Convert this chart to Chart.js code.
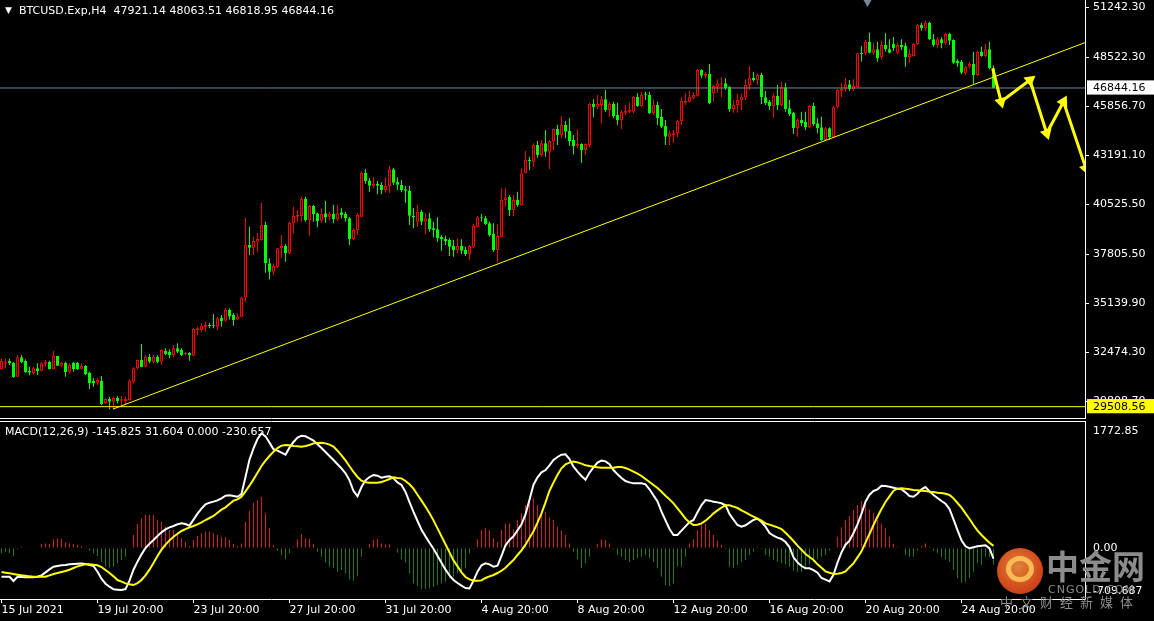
<!DOCTYPE html>
<html><head><meta charset="utf-8">
<script src="https://cdn.jsdelivr.net/npm/chart.js@4.4.1/dist/chart.umd.min.js"></script>
<style>
html,body{margin:0;padding:0;background:#000;}
body{width:1154px;height:621px;position:relative;overflow:hidden;font-family:"DejaVu Sans",sans-serif;}
canvas{position:absolute;left:0;}
.txt{position:absolute;color:#fff;font-size:11px;white-space:pre;line-height:13px;}
.wm{position:absolute;color:#8c8c8c;white-space:pre;font-family:"Noto Sans CJK SC",sans-serif;}
</style></head><body>
<canvas id="priceChart" width="1154" height="420" style="top:0"></canvas>
<canvas id="macdChart" width="1154" height="202" style="top:419px"></canvas>
<div class="txt" style="left:5px;top:4px;font-size:9px">▼</div>
<div class="txt" id="title" style="left:19px;top:4px"></div>
<div class="txt" id="macdTitle" style="left:5px;top:425px"></div>
<div style="position:absolute;left:997px;top:548px;width:46px;height:46px;border-radius:50%;background:radial-gradient(circle at 45% 40%,#f7923e 0%,#e9521f 60%,#c93a17 100%);opacity:.9"></div>
<div style="position:absolute;left:1006px;top:556px;width:18px;height:16px;border-radius:50%;border:5px solid #ffc25a;opacity:.9"></div>
<div class="wm" style="left:1046px;top:543px;font-size:33px;font-weight:bold;line-height:44px">中金网</div>
<div class="wm" style="left:1048px;top:583px;font-size:11px;line-height:13px;font-family:'DejaVu Sans';letter-spacing:1px">CNGOLD.COM</div>
<div class="wm" style="left:1000px;top:594px;font-size:13px;line-height:16px;letter-spacing:7px">中文财经新媒体</div>
<script>
// ---------- data ----------
const opens = [31557,31846,31993,31900,31139,32194,31993,31465,31324,31596,31465,31846,31938,31557,32265,31737,31900,31411,31900,31900,31574,31721,31356,30921,30812,30905,29691,29925,29779,29996,29833,29817,29871,30866,31596,32047,31683,32227,31955,32227,31955,32553,32499,32319,32683,32591,32374,32444,32281,33679,33679,33859,33951,33951,33859,34348,34185,34767,34495,34256,34402,35436,38303,38156,38482,38575,39391,37307,36851,37123,38124,38249,37851,39484,39843,39881,40806,39663,40425,40028,39625,40028,39843,39990,39701,40082,39990,39756,38629,39119,39843,42236,41812,41529,41638,41567,41295,41513,42421,41730,41583,41333,41257,39897,39571,40115,39571,39756,39211,39157,38755,38629,38575,38249,38031,38249,38031,37813,38211,39299,39810,39756,39484,38901,38031,38755,40751,40931,40207,40751,40479,42203,42927,42835,43743,43199,43835,43378,43961,44613,44287,44831,44505,44015,43705,43797,43471,43743,45973,45827,45919,46229,45647,45973,45375,45103,45500,45555,45555,46370,45865,46501,46463,45467,45919,45282,44777,44195,44287,44380,45049,46044,46099,46316,46425,47823,47513,47605,46555,46915,47045,47100,46915,45685,45919,46191,46338,47007,47404,47279,47551,46338,46099,45865,46409,45919,46882,45740,45500,44651,45103,45011,44706,45865,44924,44706,44015,44651,44162,45794,46697,46773,47045,46762,46898,48748,48732,49363,48764,48949,48514,49183,48949,49237,48764,49183,49129,48514,48585,49237,50271,50091,50396,49493,49183,49493,49275,49781,49455,48329,48274,47644,48003,48149,47551,48818,48585,48949,47921.14];
const highs = [32102,32140,32118,31938,32319,32319,32085,31683,31683,31868,31938,32047,32009,32537,32281,31955,31955,31868,31955,31938,31868,31775,31411,31051,31051,31177,29963,30051,30051,30089,30089,30051,30997,31650,32085,32917,32319,32374,32319,32319,32629,32683,32629,32863,32955,32683,32499,32466,33788,33859,34044,34131,34076,34549,34402,34495,34859,34859,34587,34587,35491,39788,39299,38755,38940,40604,39571,37579,37307,38140,38847,38357,39571,40387,40207,40931,40931,40479,40479,40060,40300,40697,40115,40479,40479,40300,40115,39810,39211,40038,42312,42438,41931,41986,41785,41714,41986,42601,42508,41986,41839,41513,41513,40316,40479,40207,40028,40060,39571,39810,38847,38809,38667,38575,38667,38613,38211,38303,39445,39881,39990,39881,39571,39484,39429,41387,41387,41023,41023,41202,42475,43417,43107,43835,43961,44015,44559,44015,44651,44831,45321,45049,45196,44287,44597,43835,43835,46044,46229,46463,46409,46735,46099,46099,46044,45647,45919,46044,46409,46555,46643,46643,46643,46229,46099,45701,45103,44521,44559,45103,46338,46555,46681,46610,47861,47861,47698,48149,47007,47317,47426,47372,46940,46191,46517,46555,47317,48041,47731,47644,47676,46681,46191,46555,47007,47187,47132,46191,45555,45196,45555,45555,45919,46044,45196,45282,44706,44706,45865,46773,47100,47388,47279,47317,48764,49129,49455,49852,49308,49363,49417,49820,49493,49602,49308,49493,49308,48949,49275,50325,50396,50505,50450,49781,49602,49602,49852,49852,49493,48405,48367,48041,48274,48818,48873,49091,49237,49363,48063.51];
const lows = [31530,31596,31775,31084,31123,31868,31356,31215,31248,31231,31432,31683,31541,31541,31721,31683,31139,31324,31411,31503,31541,31231,30486,30595,30687,29599,29653,29365,29365,29691,29599,29653,29833,30780,31541,31650,31650,31868,31868,31868,31775,32303,32140,32194,32411,32265,32303,32009,32265,33407,33587,33587,33771,33771,33679,33859,34131,34256,33913,34223,34370,35219,37759,37759,37938,38537,36796,36437,36671,37035,37579,37394,37813,38940,39571,39571,39571,38809,39571,39266,39516,39516,39663,39484,39625,39756,39571,38303,38575,38847,39810,41638,41202,41387,41061,41061,41148,41148,41567,41295,41170,40604,39391,39211,39299,39391,38901,39027,38722,38482,37993,38303,37705,37667,37851,37813,37705,37487,38124,39266,39571,39391,38755,37938,37340,38738,40387,39881,39881,40387,40452,42203,42383,42563,43052,43107,43107,42438,43471,43743,44108,44108,43705,43237,43564,42780,43199,43618,45250,45685,44924,45555,45282,45196,44831,44613,45375,45467,45467,45827,45827,46191,45429,45375,44831,44651,43743,43743,43868,44195,44831,45919,46044,46229,46370,47372,47372,45973,46099,46588,46338,46735,45555,45500,45500,45647,46191,46735,47187,47007,45973,45919,45647,45228,45647,45865,45555,45321,44341,44195,44777,44559,44651,44777,44380,43977,43977,44015,44108,45740,46354,46643,46697,46681,46882,48274,48639,48732,48639,48274,48405,48818,48732,48873,48693,48911,48003,48220,48547,49183,49961,49961,49455,49091,49003,49003,49183,49183,48149,48003,47605,47551,47915,47061,47497,48547,48514,47861,46818.95];
const closes = [31993,31922,31868,31123,32194,31938,31394,31356,31596,31449,31868,31938,31557,32265,31737,31900,31394,31775,31557,31541,31721,31270,30780,30780,30959,29653,29925,29779,29980,29817,29909,29925,30921,31596,32047,31650,32227,31955,32227,31938,32591,32374,32319,32683,32499,32319,32444,32303,33733,33771,33913,33951,33897,33913,34315,34169,34767,34407,34223,34407,35436,38303,38156,38520,38629,39391,37307,36851,37161,38124,38249,37851,39516,39881,39935,40806,39663,40425,39990,39609,39990,39810,39990,39701,40028,39935,39756,38629,39119,39935,42236,41785,41529,41638,41529,41295,41513,42421,41692,41583,41295,41257,39897,39810,40115,39571,39756,39157,39119,38667,38629,38520,38211,38031,38249,37993,37813,38249,39353,39810,39756,39445,38847,38031,38792,40751,40898,40207,40751,40479,42203,42927,42873,43743,43199,43835,43378,43961,44613,44287,44831,44467,43961,43689,43797,43471,43797,45973,45794,45973,46229,45647,45973,45321,45103,45555,45609,45647,46370,45865,46463,46447,45467,45919,45196,44739,44195,44380,44380,45049,46137,46153,46370,46463,47823,47513,47605,46011,46953,47100,47100,46828,45685,45919,46191,46370,47007,47404,47279,47551,46338,46011,45865,46409,45919,46882,45685,45429,44651,45103,44924,44706,45865,44885,44651,44015,44651,44162,45794,46735,46790,47045,46773,46953,48732,48677,49363,48764,48949,48459,49183,48949,48764,49003,49183,49058,48514,48693,49237,50271,50091,50396,49493,49183,49493,49275,49781,49417,48220,48187,47676,48003,48149,47551,48818,48585,48949,47915,46844.16];

const macdLine = [-399,-399,-399,-459,-399,-403,-408,-408,-408,-399,-380,-338,-296,-259,-250,-240,-236,-226,-222,-217,-213,-222,-236,-250,-329,-426,-496,-538,-575,-580,-585,-571,-454,-301,-189,-87,1,62,113,169,220,262,290,308,332,345,336,313,397,480,550,611,634,648,666,694,731,736,727,717,755,992,1234,1392,1522,1601,1559,1471,1378,1359,1331,1303,1401,1480,1541,1568,1559,1531,1499,1448,1396,1341,1285,1229,1169,1113,1043,945,797,722,852,945,992,1020,1010,983,996,1001,973,917,880,783,643,504,378,257,164,76,-8,-106,-203,-301,-380,-445,-487,-524,-557,-561,-454,-329,-240,-213,-226,-259,-245,-110,39,113,164,248,332,471,676,885,987,1057,1089,1155,1229,1271,1303,1308,1243,1136,1066,1006,955,1052,1127,1192,1220,1210,1169,1089,1029,978,936,917,903,903,903,890,820,736,652,508,387,266,183,183,243,304,364,392,499,601,671,662,648,638,625,597,476,397,322,299,318,355,392,411,364,299,211,173,146,127,85,15,-129,-199,-250,-282,-282,-306,-343,-417,-440,-464,-371,-203,-59,48,104,211,332,480,648,745,797,820,871,866,857,843,829,820,778,727,717,759,820,852,792,741,699,657,620,545,401,252,108,25,-3,11,25,34,39,-3,-145.825];
const signalLine = [-333,-343,-352,-361,-371,-380,-385,-394,-399,-399,-399,-399,-380,-361,-347,-333,-319,-301,-278,-254,-240,-226,-226,-231,-240,-264,-306,-347,-394,-445,-468,-492,-505,-515,-487,-445,-380,-301,-208,-110,-22,48,108,159,201,239,266,290,308,332,359,392,420,448,494,536,569,615,662,680,717,792,871,959,1052,1145,1220,1285,1345,1396,1429,1438,1434,1424,1420,1415,1424,1438,1461,1466,1471,1461,1443,1415,1359,1294,1224,1141,1062,992,941,917,913,913,913,922,941,964,987,978,973,936,890,829,745,662,578,485,387,276,164,53,-59,-171,-254,-338,-403,-436,-454,-454,-450,-417,-394,-375,-347,-315,-273,-217,-166,-96,-31,48,141,234,355,485,638,801,913,1024,1113,1169,1192,1206,1196,1178,1155,1145,1136,1127,1122,1122,1122,1122,1131,1131,1117,1094,1066,1038,1006,964,922,880,838,787,731,680,625,555,485,411,359,322,327,345,383,429,485,527,564,597,597,578,559,527,499,466,438,411,383,345,327,308,290,266,215,159,99,34,-22,-82,-124,-166,-226,-273,-324,-343,-361,-357,-347,-324,-268,-213,-129,-45,76,197,322,438,545,643,722,801,829,834,829,820,810,806,801,797,787,783,773,769,759,741,694,629,564,485,406,322,243,183,127,76,31.604];
const histogram = [-73,-50,-73,-110,-17,20,5,-8,0,0,57,66,57,122,136,127,80,66,57,43,29,-8,-36,-73,-110,-189,-259,-273,-259,-212,-166,-120,-5,183,336,415,462,462,462,392,369,299,252,252,206,136,90,29,113,169,206,229,229,206,183,150,150,113,57,29,66,369,522,634,671,718,485,276,43,-36,-96,-157,-73,20,122,197,136,127,57,-50,-120,-203,-259,-282,-329,-305,-352,-436,-454,-389,-120,-3,57,113,127,66,52,52,0,-64,-157,-203,-352,-492,-529,-575,-575,-561,-538,-515,-492,-468,-422,-399,-352,-329,-282,-73,-17,122,252,276,252,136,90,252,345,345,262,392,485,601,671,694,601,531,508,429,392,299,243,183,66,-50,-157,-282,-212,-120,6,57,122,113,66,-17,-96,-120,-166,-189,-166,-143,-120,-96,-143,-189,-282,-399,-515,-529,-492,-259,-259,-120,66,122,252,345,345,252,183,104,43,-17,-259,-282,-236,-189,-166,-96,-50,20,-17,-96,-120,-166,-189,-210,-225,-259,-317,-329,-329,-282,-222,-189,-157,-120,-96,-36,-3,159,290,392,448,531,601,657,625,541,485,392,345,276,159,57,20,0,-96,-120,-120,-36,29,66,20,-36,-73,-129,-157,-189,-305,-422,-482,-468,-422,-329,-212,-236,-120,-120,-230.657];

const tickBars = [0,24,48,72,96,120,144,168,192,216,240];
const tickLabels = ['15 Jul 2021','19 Jul 20:00','23 Jul 20:00','27 Jul 20:00','31 Jul 20:00','4 Aug 20:00','8 Aug 20:00','12 Aug 20:00','16 Aug 20:00','20 Aug 20:00','24 Aug 20:00'];
const priceTicks = [51242.30,48522.30,45856.70,43191.10,40525.50,37805.50,35139.90,32474.30,29808.70];
const lastPrice = 46844.16;
const levelPrice = 29508.56;
const trendBars = [27.9, 270.9];
const trendPrices = [29381, 49314];
const arrowBars = [247.8, 249.9, 257.1, 261.3, 265.5, 271.1];
const arrowPrices = [47915, 46098, 47279, 44380, 46099, 42475];
const arrowAngles = [0, 165, 52, 163, 28, 161];
const shiftBar = 216.5;
const macdMax = 1772.85, macdMin = -709.687;
const macdAxisText = ['1772.85', '0.00', '-709.687'];

// ---------- layout constants ----------
const xMin = -0.375, xMax = 270.875;   // 4 px per bar over a 1085 px plot
const priceMax = 51631, priceMin = 28892;
const AXIS_W = 69;

document.getElementById('title').textContent =
  'BTCUSD.Exp,H4  ' + opens[opens.length-1].toFixed(2) + ' ' + highs[highs.length-1].toFixed(2) + ' ' +
  lows[lows.length-1].toFixed(2) + ' ' + closes[closes.length-1].toFixed(2);
document.getElementById('macdTitle').textContent =
  'MACD(12,26,9) ' + macdLine[macdLine.length-1].toFixed(3) + ' ' + signalLine[signalLine.length-1].toFixed(3) +
  ' 0.000 ' + histogram[histogram.length-1].toFixed(3);

Chart.defaults.font.family = '"DejaVu Sans", sans-serif';
Chart.defaults.font.size = 11;
Chart.defaults.color = '#ffffff';

const up = closes.map((c, i) => c >= opens[i]);
const RED = '#ff0000', GREEN = '#00ff00';
const bodies = opens.map((o, i) => ({x: i, y: [o, closes[i]]}));
const wicks = lows.map((l, i) => ({x: i, y: [l, highs[i]]}));

const noPad = s => { s.paddingTop = 0; s.paddingBottom = 0; s.paddingLeft = 0; s.paddingRight = 0; };
const hiddenX = (pos) => ({
  type: 'linear', position: pos, min: xMin, max: xMax, offset: false,
  ticks: {display: false}, grid: {display: false, offset: false},
  border: {display: true, color: '#ffffff', width: 1},
  afterFit: s => { s.height = 2; noPad(s); }
});

new Chart(document.getElementById('priceChart'), {
  type: 'bar',
  data: {datasets: [
    {type: 'line', data: [{x: shiftBar, y: priceMax}], showLine: false, pointStyle: 'triangle', pointRadius: 7,
     pointRotation: 180, pointBackgroundColor: '#778899', pointBorderWidth: 0, pointHoverRadius: 7, order: 0},
    {type: 'line', data: arrowBars.map((b, i) => ({x: b, y: arrowPrices[i]})), borderColor: '#ffff00', borderWidth: 3,
     pointStyle: 'triangle', pointRadius: arrowBars.map((b, i) => i ? 7 : 0), pointRotation: arrowAngles,
     pointBackgroundColor: '#ffff00', pointBorderWidth: 0, tension: 0, order: 1},
    {type: 'line', data: trendBars.map((b, i) => ({x: b, y: trendPrices[i]})), borderColor: '#ffff00', borderWidth: 1,
     pointRadius: 0, order: 2},
    {type: 'line', data: [{x: xMin, y: lastPrice}, {x: xMax, y: lastPrice}], borderColor: '#778899', borderWidth: 1,
     pointRadius: 0, order: 3},
    {type: 'line', data: [{x: xMin, y: levelPrice}, {x: xMax, y: levelPrice}], borderColor: '#ffff00', borderWidth: 1,
     pointRadius: 0, order: 3},
    {data: bodies, backgroundColor: up.map(u => u ? '#000000' : GREEN), borderColor: up.map(u => u ? RED : GREEN),
     borderWidth: 1, borderSkipped: false, barThickness: 3, minBarLength: 1, grouped: false, inflateAmount: 0, order: 4},
    {data: wicks, backgroundColor: up.map(u => u ? RED : GREEN), borderWidth: 0, barThickness: 1,
     grouped: false, inflateAmount: 0, order: 5}
  ]},
  options: {
    responsive: false, animation: false, events: [],
    layout: {padding: 0, autoPadding: false},
    plugins: {legend: {display: false}, tooltip: {enabled: false}},
    scales: {
      x: hiddenX('bottom'),
      y: {
        type: 'linear', position: 'right', min: priceMin, max: priceMax,
        afterFit: s => { s.width = AXIS_W; noPad(s); },
        afterBuildTicks: s => { s.ticks = priceTicks.concat([lastPrice, levelPrice]).map(v => ({value: v})); },
        ticks: {
          autoSkip: false, padding: 4,
          callback: v => Number(v).toFixed(2),
          color: c => (c.tick && (c.tick.value === lastPrice || c.tick.value === levelPrice)) ? '#000000' : '#ffffff',
          showLabelBackdrop: c => !!(c.tick && (c.tick.value === lastPrice || c.tick.value === levelPrice)),
          backdropColor: c => (c.tick && c.tick.value === levelPrice) ? '#ffff00' : '#ffffff',
          backdropPadding: {top: 1, bottom: 0, left: 6, right: 9}
        },
        grid: {drawOnChartArea: false, drawTicks: true, tickLength: 4,
               color: c => (c.tick && (c.tick.value === lastPrice || c.tick.value === levelPrice)) ? 'rgba(0,0,0,0)' : '#ffffff'},
        border: {display: true, color: '#ffffff', width: 1}
      }
    }
  }
});

const macdTickValues = [macdMax - (macdMax - macdMin) * 10 / 178, 0, macdMin + (macdMax - macdMin) * 8 / 178];

new Chart(document.getElementById('macdChart'), {
  type: 'bar',
  data: {datasets: [
    {type: 'line', data: signalLine.map((v, i) => ({x: i, y: v})), borderColor: '#ffff00', borderWidth: 2,
     pointRadius: 0, tension: 0, order: 1},
    {type: 'line', data: macdLine.map((v, i) => ({x: i, y: v})), borderColor: '#ffffff', borderWidth: 2,
     pointRadius: 0, tension: 0, order: 2},
    {data: histogram.map((v, i) => ({x: i, y: v})), backgroundColor: histogram.map(v => v >= 0 ? '#dc143c' : '#1a7d1a'),
     borderWidth: 0, barThickness: 1, grouped: false, inflateAmount: 0, order: 3}
  ]},
  options: {
    responsive: false, animation: false, events: [],
    layout: {padding: 0, autoPadding: false},
    plugins: {legend: {display: false}, tooltip: {enabled: false}},
    scales: {
      xTop: hiddenX('top'),
      x: {
        type: 'linear', position: 'bottom', min: xMin, max: xMax, offset: false,
        afterFit: s => { s.height = 22; noPad(s); },
        afterBuildTicks: s => { s.ticks = tickBars.map(v => ({value: v})); },
        ticks: {autoSkip: false, maxRotation: 0, minRotation: 0, align: 'start', padding: 1,
                callback: (v, i) => tickLabels[i]},
        grid: {drawOnChartArea: false, drawTicks: true, tickLength: 4, color: '#ffffff', offset: false},
        border: {display: true, color: '#ffffff', width: 1}
      },
      y: {
        type: 'linear', position: 'right', min: macdMin, max: macdMax,
        afterFit: s => { s.width = AXIS_W; noPad(s); },
        afterBuildTicks: s => { s.ticks = macdTickValues.map(v => ({value: v})); },
        ticks: {autoSkip: false, padding: 8, callback: (v, i) => macdAxisText[i]},
        grid: {drawOnChartArea: false, drawTicks: false},
        border: {display: true, color: '#ffffff', width: 1}
      }
    }
  }
});
</script>
</body></html>
